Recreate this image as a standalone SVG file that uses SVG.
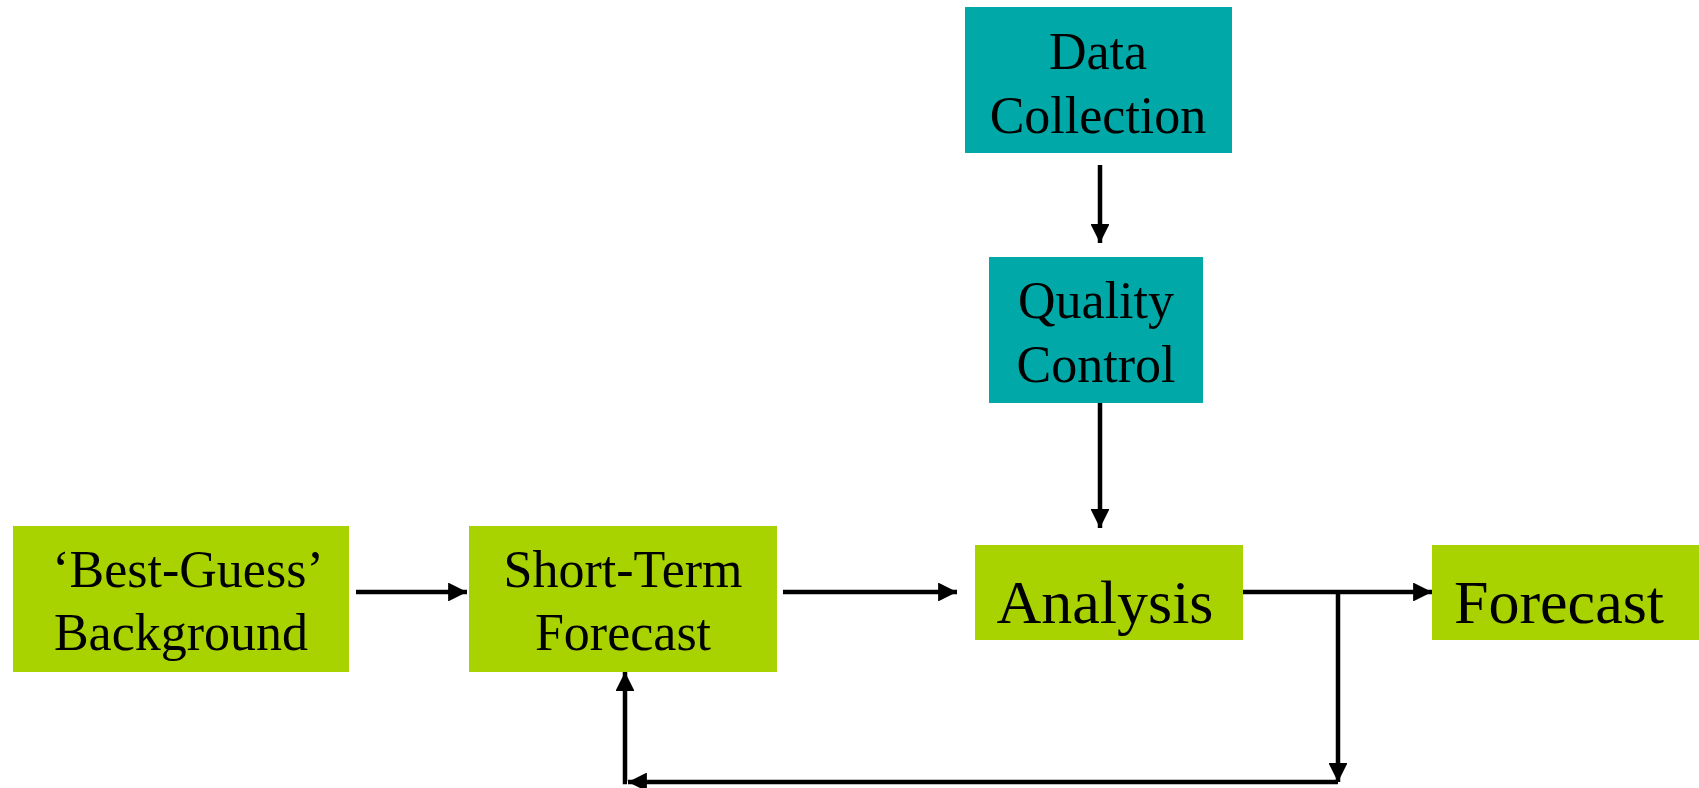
<svg xmlns="http://www.w3.org/2000/svg" width="1699" height="788" viewBox="0 0 1699 788">
<style>
.teal{fill:#00A8A8}
.green{fill:#A8D300}
text{font-family:"Liberation Serif","Times New Roman",serif;fill:#000;text-anchor:middle}
.t52{font-size:52px}
.t62{font-size:62px}
.ln{stroke:#000;stroke-width:4.5;fill:none}
</style>
<defs>
<marker id="ah" viewBox="0 0 10 10" refX="10" refY="5" markerWidth="4.2" markerHeight="4.2" markerUnits="strokeWidth" orient="auto">
<path d="M0,0 L10,5 L0,10 z" fill="#000"/>
</marker>
</defs>
<rect width="1699" height="788" fill="#fff"/>
<g id="data-collection">
<rect class="teal" x="965" y="7" width="267" height="146"/>
<text class="t52" x="1098" y="69">Data</text>
<text class="t52" x="1098" y="133">Collection</text>
</g>
<g id="quality-control">
<rect class="teal" x="989" y="257" width="214" height="146"/>
<text class="t52" x="1096" y="318">Quality</text>
<text class="t52" x="1096" y="382">Control</text>
</g>
<g id="best-guess">
<rect class="green" x="13" y="526" width="336" height="146"/>
<text class="t52" x="188" y="587">‘Best-Guess’</text>
<text class="t52" x="181" y="650">Background</text>
</g>
<g id="short-term">
<rect class="green" x="469" y="526" width="308" height="146"/>
<text class="t52" x="623" y="587">Short-Term</text>
<text class="t52" x="623" y="650">Forecast</text>
</g>
<g id="analysis">
<rect class="green" x="975" y="545" width="268" height="95"/>
<text class="t62" x="1105" y="623">Analysis</text>
</g>
<g id="forecast">
<rect class="green" x="1432" y="545" width="267" height="95"/>
<text class="t62" x="1559" y="623">Forecast</text>
</g>
<g id="connectors">
<line class="ln" x1="1100" y1="165" x2="1100" y2="243" marker-end="url(#ah)"/>
<line class="ln" x1="1100" y1="403" x2="1100" y2="528" marker-end="url(#ah)"/>
<line class="ln" x1="356" y1="592" x2="467" y2="592" marker-end="url(#ah)"/>
<line class="ln" x1="783" y1="592" x2="957" y2="592" marker-end="url(#ah)"/>
<line class="ln" x1="1243" y1="592" x2="1432" y2="592" marker-end="url(#ah)"/>
<line class="ln" x1="1338" y1="592" x2="1338" y2="782" marker-end="url(#ah)"/>
<line class="ln" x1="1338" y1="782" x2="628" y2="782" marker-end="url(#ah)"/>
<polyline class="ln" points="627,782 625,782 625,672" marker-end="url(#ah)"/>
</g>
</svg>
